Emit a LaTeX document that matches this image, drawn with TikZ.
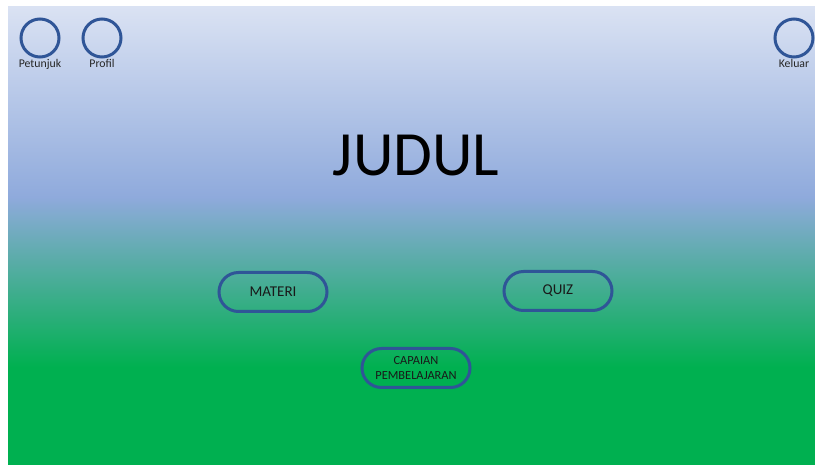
\documentclass[tikz,border=0pt]{standalone}
\usepackage{fontspec}
\setmainfont{Carlito}
\definecolor{bgtop}{RGB}{218,226,243}
\definecolor{bgmid}{RGB}{143,170,220}
\definecolor{bgbot}{RGB}{0,176,80}
\definecolor{edge}{RGB}{47,85,151}
\pgfdeclareverticalshading{slidebg}{100bp}{color(0bp)=(bgbot); color(35.7bp)=(bgbot); color(54.25bp)=(bgmid); color(75bp)=(bgtop); color(100bp)=(bgtop)}
\tikzset{
  iconbtn/.style={circle, draw=edge, line width=3pt, minimum size=38pt, inner sep=0pt},
  iconlbl/.style={anchor=base, font=\fontsize{11.8}{14}\selectfont, text=black!85},
  pillbtn/.style={rounded rectangle, draw=edge, line width=3pt, minimum width=108pt, minimum height=39pt, inner sep=0pt, align=center, text=black!90},
}
\usetikzlibrary{shapes.misc}
\begin{document}
\begin{tikzpicture}[x=1pt,y=-1pt]
\useasboundingbox (0,0) rectangle (815,465);
\fill[white] (0,0) rectangle (815,465);
\shade[shading=slidebg] (8,7) rectangle (815,465);
\node[iconbtn] (petunjuk) at (40,38) {};
\node[iconlbl] (lpetunjuk) at (40,68) {Petunjuk};
\node[iconbtn] (profil) at (102,38) {};
\node[iconlbl] (lprofil) at (102,68) {Profil};
\node[iconbtn] (keluar) at (794,38) {};
\node[iconlbl] (lkeluar) at (794,68) {Keluar};
\node[anchor=base, font=\fontsize{63}{72}\selectfont] (judul) at (416,176) {JUDUL};
\node[pillbtn, font=\fontsize{15}{18}\selectfont] (materi) at (273,292) {MATERI};
\node[pillbtn, font=\fontsize{15}{18}\selectfont] (quiz) at (558,291) {QUIZ};
\node[pillbtn, font=\fontsize{12.4}{14.5}\selectfont] (capaian) at (416,368) {CAPAIAN\\PEMBELAJARAN};
\end{tikzpicture}
\end{document}
